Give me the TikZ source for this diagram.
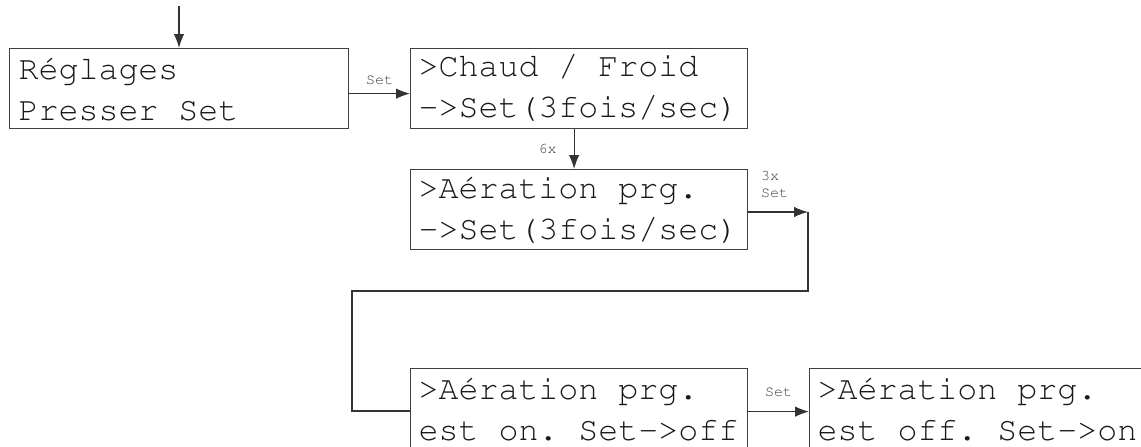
\documentclass[tikz,border=0pt]{standalone}
\usepackage[T1]{fontenc}
\usetikzlibrary{arrows.meta,positioning}
\tikzset{every picture/.style={>={Latex[length=14pt,width=10.5pt]}}}
\newcommand{\lcdfont}[2]{\fontfamily{pcr}\fontsize{#1}{#2}\selectfont}
\newcommand{\lcdspace}{\spaceskip=\fontcharwd\font`x\relax\xspaceskip=\spaceskip}

\begin{document}
\begin{tikzpicture}[
    x=1pt, y=-1pt,
    screen/.style={draw=black!75, line width=1.2pt, rectangle, anchor=north west,
        minimum width=337pt, minimum height=80pt, inner xsep=8pt,
        text width=321pt, align=flush left, text=black!90,
        font=\lcdfont{33.3pt}{41pt}, execute at begin node=\lcdspace},
    wire/.style={draw=black!80, line width=1.2pt},
    tag/.style={font=\lcdfont{15pt}{17pt}, text=black!75,
        inner sep=0pt, align=left}
]
    \clip (0,0) rectangle (1141,447);

    % screens
    \node[screen, minimum width=339pt] (reglages) at (9,48) {Réglages\\Presser Set};
    \node[screen] (chaud) at (410,48) {>Chaud / Froid\\->Set(3fois/sec)};
    \node[screen] (aeration) at (410,169) {>Aération prg.\\->Set(3fois/sec)};
    \node[screen] (aeron) at (410,368) {>Aération prg.\\est on. Set->off};
    \node[screen] (aeroff) at (809,368) {>Aération prg.\\est off. Set->on};

    % free ends of the wires
    \coordinate (entry) at (179,6);
    \coordinate (turn1) at (808,212);
    \coordinate (turn2) at (808,291);
    \coordinate (turn3) at (352,291);
    \coordinate (turn4) at (352,411);

    % transitions
    \draw[wire, ->] (entry) -- (reglages.north -| entry);
    \draw[wire, ->] ([yshift=-5pt]reglages.east) -- ([yshift=-5pt]chaud.west)
        node[tag, midway, above=8pt] (tagset) {Set};
    \draw[wire, ->] ([xshift=-5pt]chaud.south) -- ([xshift=-5pt]aeration.north)
        node[tag, midway, left=17pt] (tagsix) {6x};
    \draw[wire, ->] (aeration.east |- turn1) -- (turn1);
    \node[tag, anchor=west] (tagthree) at (761,184) {3x\\Set};
    \draw[wire] (turn1) -- (turn2) -- (turn3) -- (turn4) -- (aeron.west |- turn4);
    \draw[wire, ->] ([yshift=-3pt]aeron.east) -- ([yshift=-3pt]aeroff.west)
        node[tag, midway, above=14pt] (tagoff) {Set};
\end{tikzpicture}
\end{document}
